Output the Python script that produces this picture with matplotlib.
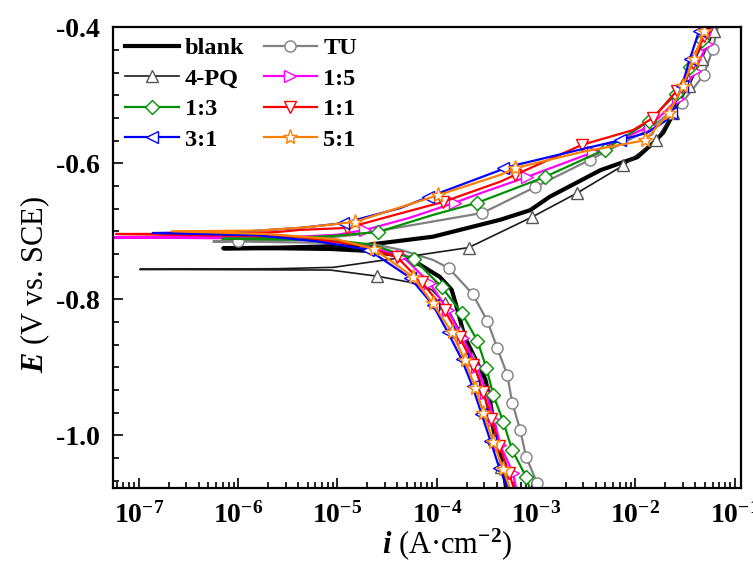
import numpy as np
import matplotlib
matplotlib.use("Agg")
import matplotlib.pyplot as plt
from matplotlib.ticker import MultipleLocator, AutoMinorLocator, LogLocator, NullFormatter

# Potentiodynamic polarization curves, E (V vs. SCE) against log10 of i (A/cm2),
# listed in scan order: cathodic branch, corrosion potential dip, anodic branch.
E_blank = [-1.080, -1.036, -0.998, -0.952, -0.918, -0.894, -0.855, -0.811, -0.786, -0.767,
           -0.749, -0.736, -0.729, -0.726, -0.725, -0.725, -0.724, -0.722, -0.720, -0.708,
           -0.683, -0.669, -0.649, -0.610, -0.591, -0.570, -0.555, -0.536, -0.497, -0.458,
           -0.419, -0.400]
logi_blank = [-3.30, -3.34, -3.41, -3.46, -3.51, -3.59, -3.72, -3.80, -3.85, -3.97,
              -4.17, -4.37, -4.67, -5.07, -5.58, -6.15, -5.58, -5.07, -4.70, -4.04,
              -3.36, -3.06, -2.86, -2.35, -1.98, -1.82, -1.72, -1.65, -1.55, -1.45,
              -1.32, -1.25]

E_tu = [-1.080, -1.070, -1.032, -0.992, -0.952, -0.911, -0.872, -0.832, -0.792, -0.754,
        -0.742, -0.727, -0.720, -0.717, -0.716, -0.715, -0.715, -0.714, -0.712, -0.705,
        -0.694, -0.673, -0.635, -0.595, -0.551, -0.511, -0.470, -0.432, -0.400]
logi_tu = [-2.95, -2.99, -3.10, -3.16, -3.24, -3.29, -3.39, -3.49, -3.64, -3.88,
           -4.04, -4.37, -4.60, -5.00, -5.60, -6.00, -6.25, -5.90, -5.30, -4.80,
           -4.37, -3.54, -3.01, -2.46, -1.87, -1.53, -1.31, -1.22, -1.17]

E_pq = [-1.080, -1.046, -1.006, -0.966, -0.926, -0.886, -0.846, -0.806, -0.786, -0.775,
        -0.766, -0.757, -0.756, -0.755, -0.753, -0.739, -0.724, -0.679, -0.644, -0.603,
        -0.566, -0.526, -0.486, -0.446, -0.406, -0.400]
logi_pq = [-3.30, -3.35, -3.42, -3.48, -3.55, -3.65, -3.77, -3.92, -4.05, -4.27,
           -4.60, -5.07, -6.99, -5.60, -5.04, -4.37, -3.68, -3.04, -2.59, -2.12,
           -1.79, -1.62, -1.46, -1.33, -1.21, -1.20]

E_15 = [-1.080, -1.056, -1.015, -0.978, -0.938, -0.900, -0.857, -0.816, -0.776, -0.736,
        -0.718, -0.711, -0.709, -0.708, -0.705, -0.698, -0.680, -0.658, -0.644, -0.620,
        -0.584, -0.545, -0.505, -0.465, -0.425, -0.400]
logi_15 = [-3.20, -3.23, -3.36, -3.42, -3.50, -3.59, -3.74, -3.89, -4.07, -4.35,
           -4.80, -5.40, -7.35, -5.40, -5.00, -4.72, -4.27, -3.82, -3.56, -3.09,
           -2.43, -1.85, -1.57, -1.40, -1.28, -1.23]

E_13 = [-1.080, -1.061, -1.022, -0.980, -0.941, -0.901, -0.861, -0.820, -0.782, -0.741,
        -0.720, -0.713, -0.712, -0.711, -0.710, -0.707, -0.701, -0.676, -0.658, -0.620,
        -0.580, -0.538, -0.498, -0.458, -0.418, -0.400]
logi_13 = [-3.06, -3.10, -3.24, -3.33, -3.43, -3.50, -3.59, -3.75, -3.95, -4.23,
           -4.64, -5.04, -5.58, -6.16, -5.58, -5.07, -4.59, -4.04, -3.59, -2.91,
           -2.31, -1.86, -1.59, -1.45, -1.33, -1.30]

E_11 = [-1.080, -1.056, -1.016, -0.976, -0.936, -0.896, -0.856, -0.816, -0.775, -0.738,
        -0.720, -0.708, -0.704, -0.7035, -0.701, -0.698, -0.695, -0.675, -0.657, -0.627,
        -0.617, -0.573, -0.551, -0.533, -0.493, -0.453, -0.413, -0.400]
logi_11 = [-3.22, -3.27, -3.37, -3.45, -3.53, -3.63, -3.77, -3.92, -4.15, -4.40,
           -4.80, -5.40, -7.23, -6.00, -5.60, -5.38, -4.90, -4.40, -3.94, -3.36,
           -3.21, -2.54, -2.02, -1.82, -1.58, -1.42, -1.31, -1.29]

E_31 = [-1.080, -1.048, -1.008, -0.968, -0.928, -0.888, -0.848, -0.808, -0.768, -0.727,
        -0.715, -0.706, -0.7025, -0.701, -0.695, -0.688, -0.666, -0.650, -0.610, -0.607,
        -0.580, -0.566, -0.555, -0.536, -0.526, -0.486, -0.446, -0.406, -0.400]
logi_31 = [-3.28, -3.37, -3.46, -3.55, -3.64, -3.75, -3.89, -4.04, -4.27, -4.69,
           -5.20, -5.80, -6.86, -6.00, -5.38, -4.94, -4.37, -4.09, -3.36, -3.33,
           -2.56, -2.15, -1.88, -1.68, -1.64, -1.53, -1.45, -1.36, -1.35]

E_51 = [-1.080, -1.050, -1.010, -0.967, -0.931, -0.889, -0.848, -0.806, -0.767, -0.726,
        -0.712, -0.704, -0.700, -0.699, -0.694, -0.686, -0.647, -0.617, -0.607, -0.583,
        -0.566, -0.526, -0.486, -0.446, -0.406, -0.400]
logi_51 = [-3.26, -3.33, -3.43, -3.53, -3.61, -3.72, -3.85, -4.04, -4.24, -4.63,
           -5.00, -5.70, -6.67, -5.80, -5.30, -4.82, -3.99, -3.36, -3.21, -2.53,
           -1.90, -1.66, -1.52, -1.41, -1.31, -1.30]

labels = ["blank", "TU", "4-PQ", "1:5", "1:3", "1:1", "3:1", "5:1"]
x_ticks = [1e-7, 1e-6, 1e-5, 1e-4, 1e-3, 1e-2, 1e-1]

series = [
    (E_blank, logi_blank, dict(color="black", lw=3.0)),
    (E_tu, logi_tu, dict(color="#808080", lw=1.6, marker="o", ms=8, mec="#808080",
                         markevery=[1, 2, 3, 4, 5, 6, 7, 8, 9, 15, 21, 22, 23, 24, 25, 26, 27])),
    (E_pq, logi_pq, dict(color="#1a1a1a", lw=1.2, marker="^", ms=8, mec="#555555",
                         markevery=[1, 2, 3, 4, 5, 6, 7, 10, 16, 17, 18, 19, 20, 21, 22, 23, 24])),
    (E_15, logi_15, dict(color="#ff00ff", lw=1.6, marker=">", ms=8, mec="#ff00ff",
                         markevery=[1, 2, 3, 4, 5, 6, 7, 8, 9, 15, 17, 19, 20, 21, 22, 23, 24])),
    (E_13, logi_13, dict(color="#009000", lw=1.6, marker="D", ms=7, mec="#009000",
                         markevery=[1, 2, 3, 4, 5, 6, 7, 8, 9, 16, 18, 19, 20, 21, 22, 23, 24])),
    (E_11, logi_11, dict(color="#ff0000", lw=1.6, marker="v", ms=8, mec="#ff0000",
                         markevery=[1, 2, 3, 4, 5, 6, 7, 8, 9, 16, 18, 20, 21, 23, 24, 25, 26])),
    (E_31, logi_31, dict(color="#0000ff", lw=1.6, marker="<", ms=8, mec="#0000ff",
                         markevery=[1, 2, 3, 4, 5, 6, 7, 8, 9, 15, 17, 19, 21, 24, 25, 26, 27])),
    (E_51, logi_51, dict(color="#ff8000", lw=1.6, marker="*", ms=11, mec="#ff8000",
                         markevery=[1, 2, 3, 4, 5, 6, 7, 8, 9, 15, 16, 18, 20, 21, 22, 23, 24])),
]

plt.rcParams["font.family"] = "Liberation Serif"
plt.rcParams["font.weight"] = "bold"
plt.rcParams["mathtext.fontset"] = "custom"
plt.rcParams["mathtext.rm"] = "Liberation Serif:bold"
plt.rcParams["mathtext.it"] = "Liberation Serif:italic:bold"
plt.rcParams["mathtext.bf"] = "Liberation Serif:bold"
plt.rcParams["axes.unicode_minus"] = False

fig = plt.figure(figsize=(7.53, 5.65), dpi=100)
ax = fig.add_axes([0.1497, 0.1363, 0.8340, 0.8154])

lines = []
for (E, logi, style), label in zip(series, labels):
    i = 10 ** np.array(logi)
    (ln,) = ax.plot(i, E, label=label, mfc="white", mew=1.0, **style)
    lines.append(ln)

ax.set_xscale("log")
ax.set_xlim(10 ** -7.263, 10 ** -0.939)
ax.set_ylim(-1.0775, -0.4)

ax.set_xticks(x_ticks)
ax.xaxis.set_minor_locator(LogLocator(base=10, subs=np.arange(2, 10), numticks=12))
ax.xaxis.set_minor_formatter(NullFormatter())
ax.yaxis.set_major_locator(MultipleLocator(0.2))
ax.yaxis.set_minor_locator(AutoMinorLocator(6))

ax.tick_params(which="both", direction="in", top=False, right=False, width=1.2)
ax.tick_params(which="major", length=7)
ax.tick_params(which="minor", length=4)
ax.tick_params(axis="x", labelsize=20, pad=10)
ax.tick_params(axis="y", labelsize=20, pad=9)
for sp in ax.spines.values():
    sp.set_linewidth(1.6)

ax.set_xlabel(r"$i$ (A·cm$^{-2}$)", fontsize=22)
ax.set_ylabel(r"$E$ (V vs. SCE)", fontsize=22)
ax.xaxis.set_label_coords(0.532, -0.083)
ax.yaxis.set_label_coords(-0.097, 0.441)

order = [0, 2, 4, 6, 1, 3, 5, 7]
ax.legend([lines[k] for k in order], [labels[k] for k in order], ncol=2,
          frameon=False, loc="upper left", bbox_to_anchor=(0.0196, 0.978),
          borderaxespad=0, borderpad=0, fontsize=17.5, handlelength=2.2,
          handletextpad=0.25, columnspacing=0.8, labelspacing=0.35)

fig.savefig("out.png", dpi=100)
